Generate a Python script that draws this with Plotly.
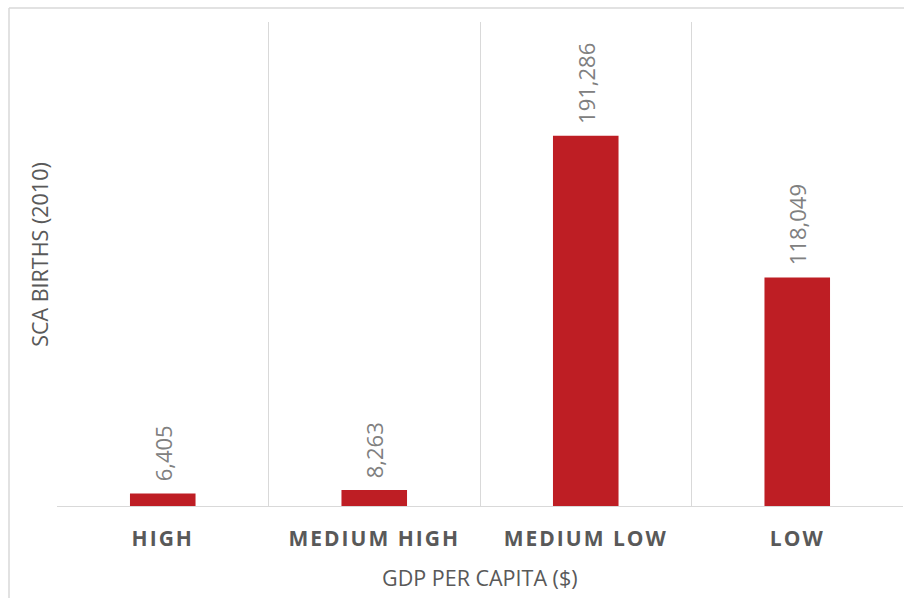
import plotly.graph_objects as go

categories = ["HIGH", "MEDIUM HIGH", "MEDIUM LOW", "LOW"]
births = [6405, 8263, 191286, 118049]
x_title = "GDP PER CAPITA ($)"
y_title = "SCA BIRTHS (2010)"

BAR = "#BE1E24"
GRID = "#D9D9D9"

fig = go.Figure()
fig.add_trace(go.Bar(
    x=categories, y=births, width=0.31,
    marker=dict(color=BAR, line=dict(width=0)),
    hoverinfo="skip",
))

for c, v in zip(categories, births):
    fig.add_annotation(
        x=c, y=v, xref="x", yref="y", text=f"{v:,}", showarrow=False,
        textangle=-90, yanchor="bottom", xanchor="center", yshift=10,
        font=dict(family="Open Sans", size=22, color="#808080"),
    )

fig.add_annotation(
    x=0.5, y=-0.148, xref="paper", yref="paper", text=x_title, showarrow=False,
    xanchor="center", yanchor="middle",
    font=dict(family="Open Sans", size=21.5, color="#595959"),
)
fig.add_annotation(
    x=-17 / 846, y=0.519, xref="paper", yref="paper", text=y_title, showarrow=False,
    textangle=-90, xanchor="center", yanchor="middle",
    font=dict(family="Open Sans", size=21.5, color="#595959"),
)

# outer chart border (top and left visible)
fig.add_shape(type="line", xref="paper", yref="paper",
              x0=-48 / 846, x1=1.2, y0=(506 - 8) / 484, y1=(506 - 8) / 484,
              line=dict(color=GRID, width=1.5))
fig.add_shape(type="line", xref="paper", yref="paper",
              x0=-48 / 846, x1=-48 / 846, y0=(506 - 8) / 484, y1=-0.3,
              line=dict(color=GRID, width=1.5))

fig.update_layout(
    width=904, height=598,
    margin=dict(l=57, r=1, t=22, b=92),
    paper_bgcolor="white", plot_bgcolor="white",
    showlegend=False,
    xaxis=dict(
        type="category", range=[-0.5, 3.5],
        tickson="boundaries", showgrid=True, gridcolor=GRID, gridwidth=1,
        showline=True, linecolor=GRID, linewidth=1,
        ticks="", ticklabelstandoff=14,
        tickvals=categories,
        ticktext=[f'<span style="letter-spacing:2px">{c}</span>' for c in categories],
        tickfont=dict(family="Open Sans", size=21, color="#595959", weight="bold"),
        fixedrange=True,
    ),
    yaxis=dict(
        range=[0, 250000], showgrid=False, showticklabels=False,
        zeroline=False, showline=False, ticks="", fixedrange=True,
    ),
)

fig.write_html("out.html")
